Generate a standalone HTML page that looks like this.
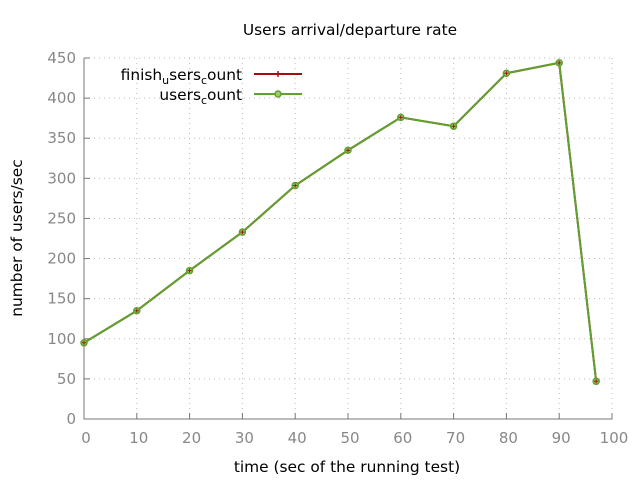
<!DOCTYPE html>
<html><head><meta charset="utf-8"><style>
body{margin:0;background:#fff}
svg{display:block;font-family:"DejaVu Sans","Liberation Sans",sans-serif}
</style></head><body>
<svg id="chart" width="640" height="480" viewBox="0 0 640 480">
<text x="350" y="35" text-anchor="middle" font-size="15.4" fill="#000">Users arrival/departure rate</text>
<g id="grid"></g>
<g id="axes"></g>
<text x="347" y="472" text-anchor="middle" font-size="15.4">time (sec of the running test)</text>
<text transform="translate(22,238) rotate(-90)" text-anchor="middle" font-size="15.4">number of users/sec</text>
<g id="series"></g>
<g>
<text x="242" y="80" text-anchor="end" font-size="15.4">finish<tspan font-size="11" dy="4">u</tspan><tspan dy="-4">sers</tspan><tspan font-size="11" dy="4">c</tspan><tspan dy="-4">ount</tspan></text>
<line x1="254" y1="74" x2="302" y2="74" stroke="#a01010" stroke-width="2"/>
<path d="M275,74h6M278,71v6" stroke="#a01010" stroke-width="1.5"/>
<text x="242" y="100" text-anchor="end" font-size="15.4">users<tspan font-size="11" dy="4">c</tspan><tspan dy="-4">ount</tspan></text>
<line x1="254" y1="94" x2="302" y2="94" stroke="#5ea12e" stroke-width="2"/>
<circle cx="278" cy="94" r="3" fill="#9acd6a" stroke="#5ea12e" stroke-width="1.5"/>
</g>
</svg>
<script>
const times=[0,10,20,30,40,50,60,70,80,90,97];
const finishCount=[95,135,185,233,291,335,376,365,431,444,47];
const usersCount=[95,135,185,233,291,335,376,365,431,444,47];
const xTicks=[0,10,20,30,40,50,60,70,80,90,100];
const yTicks=[0,50,100,150,200,250,300,350,400,450];
const NS="http://www.w3.org/2000/svg";
const X0=84,X1=612,Y0=419,Y1=58;
const sx=v=>X0+(X1-X0)*v/100, sy=v=>Y0-(Y0-Y1)*v/450;
function mk(tag,attrs,parent){const e=document.createElementNS(NS,tag);for(const k in attrs)e.setAttribute(k,attrs[k]);parent.appendChild(e);return e;}
const grid=document.getElementById('grid'),axes=document.getElementById('axes'),ser=document.getElementById('series');
xTicks.forEach(t=>{
 const x=sx(t);
 if(t>0){const g=mk('line',{x1:x,y1:Y1,x2:x,y2:Y0,stroke:'#bbb','stroke-dasharray':'1,4'},grid);
 
 }
 const tk=mk('line',{x1:x,y1:Y0,x2:x,y2:Y0-6,stroke:'#777'},axes);
 
 
 const l=mk('text',{x:x+2,y:Y0+24,'text-anchor':'middle','font-size':'15','fill':'#888'},axes);l.textContent=t;
 
 
});
yTicks.forEach(t=>{
 const y=sy(t);
 if(t>0){const g=mk('line',{x1:X0,y1:y,x2:X1,y2:y,stroke:'#bbb','stroke-dasharray':'1,4'},grid);
 
 }
 const tk=mk('line',{x1:X0,y1:y,x2:X0+6,y2:y,stroke:'#777'},axes);
 
 
 const l=mk('text',{x:X0-8,y:y+5,'text-anchor':'end','font-size':'15',fill:'#888'},axes);l.textContent=t;
 
 
});
const ax=mk('path',{d:`M${X0},${Y1} V${Y0} H${X1} V${Y0-6}`,fill:'none',stroke:'#777'},axes);


function pts(v){return times.map((t,i)=>sx(t)+','+sy(v[i])).join(' ');}
const l1=mk('polyline',{points:pts(finishCount),fill:'none',stroke:'#a01010','stroke-width':2},ser);


const l2=mk('polyline',{points:pts(usersCount),fill:'none',stroke:'#5ea12e','stroke-width':2},ser);


times.forEach((t,i)=>{
 const c=mk('circle',{cx:sx(t),cy:sy(usersCount[i]),r:3,fill:'#9acd6a',stroke:'#5ea12e','stroke-width':1.5},ser);
 
 
 const p=mk('path',{d:`M${sx(t)-2},${sy(finishCount[i])}h4M${sx(t)},${sy(finishCount[i])-2}v4`,stroke:'#a01010','stroke-width':1},ser);
 
 
});
</script>
</body></html>
